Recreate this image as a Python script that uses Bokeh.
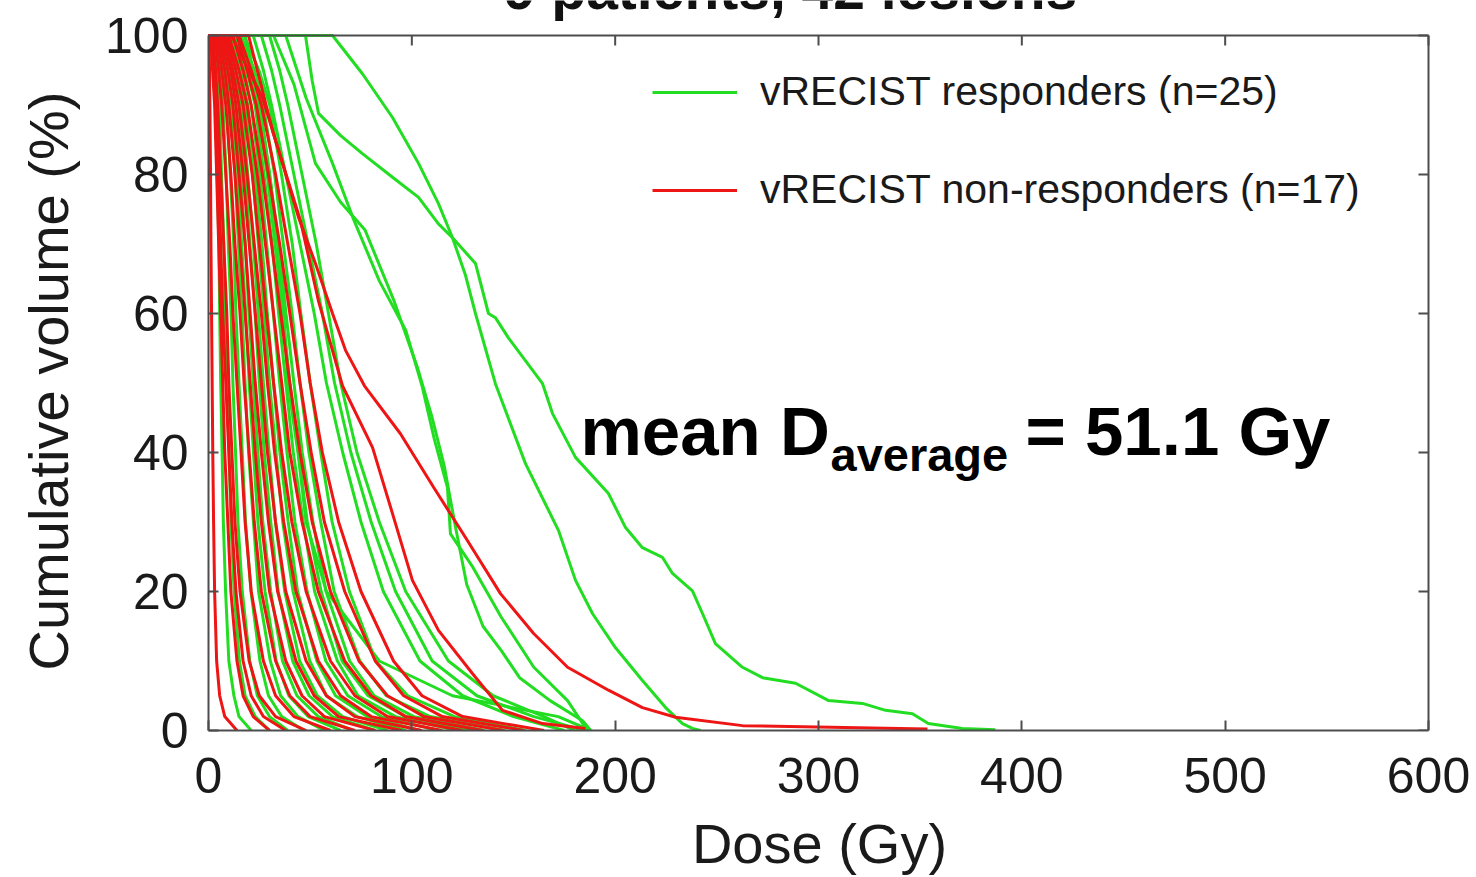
from bokeh.plotting import figure
from bokeh.models import Range1d, FixedTicker, Legend, LegendItem, Label
from bokeh.embed import file_html
from bokeh.resources import INLINE

# ---------------- data ----------------
TITLE = "9 patients, 42 lesions"
X_TICKS = [0, 100, 200, 300, 400, 500, 600]
Y_TICKS = [0, 20, 40, 60, 80, 100]
X_MAX = 600
Y_MAX = 100

# common volume grid (%) for curves described on it
VOL = [100, 95, 90, 80, 70, 60, 50, 40, 30, 20, 10, 5, 2, 0]

# --- responders (green), traced curves
g01_dose = [0, 47.7, 51, 54.1, 65, 75.7, 90.5, 103.3, 113.1, 120, 131.3, 137.7, 141.1, 147.5, 164.3, 169.2,
            180.5, 196.7, 205.1, 213.4, 223.3, 228.2, 238, 243, 249.3, 262.6, 272.5, 288.7, 305, 321.6, 333,
            346.2, 354, 370.8, 387]
g01_vol = [100, 100, 93.5, 88.8, 85.6, 83, 79.6, 76.7, 72.9, 70.9, 67.2, 60, 59.4, 56.5, 49.9, 45.6,
           39.3, 34.1, 29.2, 26.3, 24.9, 22.6, 20.1, 16.8, 12.5, 9.1, 7.6, 6.8, 4.3, 3.9, 2.9,
           2.4, 1.0, 0.3, 0.1]
g02_dose = [0, 61, 75.7, 90.5, 103.3, 113.1, 120, 126.4, 131.3, 141.1, 155.9, 172.1, 180.5, 188.9, 200.2,
            213.4, 224.8, 233.1, 238, 242]
g02_vol = [100, 100, 94.5, 88.2, 81.6, 75.8, 70.9, 65.5, 60, 49.9, 38.4, 28.8, 21.6, 16.8, 11.9,
           7.2, 3.3, 1.0, 0.3, 0]
g03_dose = [0, 32, 42, 52.6, 65, 77, 91, 103, 110, 116, 121, 127, 135, 144, 153, 168, 184, 188]
g03_vol = [100, 100, 93, 81.6, 76, 72, 62, 52, 45, 38, 30, 21, 15, 11.5, 7.6, 4.3, 1.4, 0]
g04_dose = [0, 38, 48, 61, 71, 84, 97, 105, 111, 117.5, 119, 130, 144, 160, 176.6, 184, 186]
g04_vol = [100, 100, 91, 81.6, 73.8, 64.7, 57.6, 49.6, 42, 35, 28.3, 23.5, 16.3, 9.1, 4.3, 1, 0]

# --- responders (green) on the VOL grid (dose in Gy at each VOL level)
g05 = [22, 27, 31, 38, 45, 52, 58, 66, 75, 86, 104, 125, 150, 175]
g06 = [26, 31, 35, 42, 49, 56, 62, 70, 80, 92, 110, 132, 160, 185]
g07 = [30, 35, 39, 46, 53, 59, 65, 73, 84, 97, 118, 140, 165, 180]
g08 = [18, 22, 25, 30, 34, 37, 39, 44, 48, 58, 84, 120, 172, 188]
g09 = [2, 3, 3.7, 4.3, 5.1, 5.5, 6, 6.7, 7.3, 8.4, 10, 12.5, 15, 21]
g10 = [3, 4.4, 5.5, 6.4, 7.5, 8.1, 9, 10.1, 11, 12.6, 15.2, 18, 23, 30]
g11 = [4, 6.1, 7.1, 8.7, 9.7, 11.1, 12, 13.3, 14.5, 16.6, 20.3, 24, 30, 39]
g12 = [5, 7.4, 9.1, 10.7, 12.4, 13.5, 15, 16.6, 18.2, 20.9, 25.3, 29.5, 36, 47]
g13 = [6, 9.1, 10.9, 13.1, 14.7, 16.5, 18, 19.7, 22.1, 24.6, 30.4, 35.5, 44, 57]
g14 = [7, 10.2, 11.9, 14.5, 16.3, 18.3, 20, 22.1, 24.3, 27.8, 33.3, 39.5, 49, 65]
g15 = [8, 10.8, 13.3, 15.7, 18.1, 19.9, 22, 24.3, 26.7, 30.6, 36.4, 43.5, 54, 71]
g16 = [9, 12.6, 14.9, 18.1, 20.4, 22.9, 25, 27.4, 30.6, 34.3, 41.4, 49.5, 61, 82]
g17 = [9.5, 13.4, 16.3, 19.3, 22.1, 24.5, 27, 29.8, 32.9, 37.5, 44.8, 53.5, 66, 88]
g18 = [10.5, 15.1, 17.9, 21.7, 24.5, 27.4, 30, 33.2, 36.5, 41.6, 49.8, 58, 73, 97]
g19 = [11, 15.8, 19.3, 22.9, 26.3, 28.9, 32, 35.1, 39.2, 43.8, 53.3, 62.5, 78, 104]
g20 = [12, 17.6, 20.9, 25.3, 28.6, 31.9, 35, 38.6, 42.5, 48.5, 57.7, 68.5, 85, 113]
g21 = [13, 18.9, 22.9, 27.3, 31.3, 34.5, 38, 41.7, 46.6, 52.2, 63.4, 73.5, 92, 122]
g22 = [14, 20.2, 23.9, 28.9, 32.7, 36.5, 40, 44.2, 48.6, 55.4, 65.7, 78.5, 97, 129]
g23 = [15, 20.9, 25.3, 30.1, 34.5, 38.1, 42, 46.1, 51.4, 57.8, 69.4, 81.5, 101, 136]
g24 = [16, 22.6, 26.9, 32.5, 36.8, 41.1, 45, 49.4, 55.2, 61.8, 74.4, 87.5, 109, 146]
g25 = [17.5, 24.8, 30.1, 35.9, 41.2, 45.4, 50, 55.2, 60.8, 69.3, 82.2, 98, 121, 156]

# --- non-responders (red), traced curves
r01_dose = [0, 11.8, 26.6, 36.4, 44.3, 52.6, 61, 67.4, 76.7, 94.4, 110.7, 127.4, 143.6, 159.8, 176.6,
            196.7, 213.4, 229.7, 262.6, 353.6]
r01_vol = [100, 99.7, 91, 81.6, 73.8, 67.2, 60, 54.7, 49.6, 42.7, 35, 27.3, 19.7, 14, 9.1,
           5.8, 3.3, 1.9, 0.7, 0.2]
r02_dose = [0, 19.7, 31.5, 45.2, 54, 65.9, 80.7, 90.5, 100.3, 113.1, 129.8, 144.6, 164.3, 185.4]
r02_vol = [100, 100, 86.3, 73.4, 61.9, 49.6, 40.7, 31.2, 21.6, 14.4, 8.2, 2.9, 1, 0.3]

# --- non-responders (red) on the VOL grid
r03 = [0.3, 0.5, 0.7, 1, 1.2, 1.5, 1.8, 2.1, 2.5, 3, 4, 5.5, 8, 14]
r04 = [1, 2, 3, 4, 5, 6, 7, 8, 9.5, 11, 14, 17, 22, 30]
r05 = [2, 3.5, 4.5, 6, 7.5, 9, 10, 11.5, 13, 15.5, 20, 25, 33, 48]
r06 = [3, 5, 6.5, 8.5, 10.5, 12, 14, 16, 18, 21, 27, 33, 42, 60]
r07 = [4, 6.5, 8.5, 11, 13, 15.5, 17.5, 20, 22.5, 26, 33, 40, 50, 72]
r08 = [5, 8, 10, 13, 15.5, 18, 20.5, 23, 26, 30, 38, 46, 57, 82]
r09 = [6, 9.5, 12, 15, 18, 20.5, 23, 26, 29.5, 34, 43, 52, 64, 95]
r10 = [7, 11, 13.5, 17, 20, 23, 26, 29, 33, 38, 48, 58, 72, 105]
r11 = [8, 12, 15, 19, 22.5, 26, 29, 32.5, 37, 43, 54, 65, 80, 115]
r12 = [9, 13.5, 17, 21.5, 25, 28.5, 32, 36, 41, 48, 60, 72, 88, 125]
r13 = [10, 15, 19, 24, 28, 32, 36, 40, 46, 54, 67, 80, 97, 135]
r14 = [12, 17, 21, 26.5, 31, 35.5, 40, 45, 51, 60, 74, 88, 106, 145]
r15 = [14, 19, 23.5, 29.5, 35, 40, 45, 50.5, 57, 67, 82, 96, 115, 155]
r16 = [15, 21, 26, 33, 39, 45, 50, 56, 64, 75, 91, 105, 125, 165]
r17 = [1.5, 2.5, 3.5, 5, 6, 7, 8.5, 10, 11.5, 13.5, 17, 21, 27, 38]

X_LABEL = "Dose (Gy)"
Y_LABEL = "Cumulative volume (%)"
LEG_G = "vRECIST responders (n=25)"
LEG_R = "vRECIST non-responders (n=17)"
ANNOT_MAIN = "mean D"
ANNOT_SUB = "average"
ANNOT_TAIL = "= 51.1 Gy"

# ---------------- layout / styling ----------------
W, H = 1476, 877
LEFT, RIGHT, BOTTOM = 208, 46, 147
FRAME_TOP_PX = 35                      # where 100 % sits on the canvas
frame_h = H - BOTTOM                   # frame reaches the canvas top
frame_w = W - LEFT - RIGHT
px_per_y = (frame_h - FRAME_TOP_PX) / Y_MAX
px_per_x = (frame_w - 2) / X_MAX
y_end = frame_h / px_per_y
x_end = frame_w / px_per_x

GREEN = "#22dd22"
RED = "#ee1515"
FONT = "Liberation Sans"
AX = "#4d4d4d"
TICK = 10
NBSP = "\u00a0"

def y_at_px(py):
    """data y whose screen position is canvas row py"""
    return (frame_h - py) / px_per_y

def x_at_px(px):
    return (px - LEFT) / px_per_x

green_curves = [(g01_dose, g01_vol), (g02_dose, g02_vol), (g03_dose, g03_vol), (g04_dose, g04_vol)]
for g in [g05, g06, g07, g08, g09, g10, g11, g12, g13, g14, g15, g16, g17, g18, g19, g20, g21, g22,
          g23, g24, g25]:
    green_curves.append(([0] + g, [100] + VOL))
red_curves = [(r01_dose, r01_vol), (r02_dose, r02_vol)]
for r in [r03, r04, r05, r06, r07, r08, r09, r10, r11, r12, r13, r14, r15, r16, r17]:
    red_curves.append(([0] + r, [100] + VOL))

p = figure(width=W, height=H, output_backend="svg", toolbar_location=None,
           x_range=Range1d(0, x_end), y_range=Range1d(0, y_end),
           min_border_left=LEFT, min_border_right=RIGHT, min_border_top=0, min_border_bottom=BOTTOM)
p.title.visible = False
p.background_fill_color = "white"
p.border_fill_color = "white"
p.grid.visible = False
p.outline_line_color = None

g_rs = [p.line(x, y, line_color=GREEN, line_width=3) for x, y in green_curves]
r_rs = [p.line(x, y, line_color=RED, line_width=3) for x, y in red_curves]

# top and right edges of the box, with inward ticks
p.line([0, X_MAX], [Y_MAX, Y_MAX], line_color=AX, line_width=2)
p.line([X_MAX, X_MAX], [0, Y_MAX], line_color=AX, line_width=2)
p.segment(x0=X_TICKS, y0=[Y_MAX] * len(X_TICKS), x1=X_TICKS,
          y1=[Y_MAX - TICK / px_per_y] * len(X_TICKS), line_color=AX, line_width=2)
p.segment(x0=[X_MAX] * len(Y_TICKS), y0=Y_TICKS, x1=[X_MAX - TICK / px_per_x] * len(Y_TICKS),
          y1=Y_TICKS, line_color=AX, line_width=2)

xa = p.xaxis[0]
ya = p.yaxis[0]
xa.ticker = FixedTicker(ticks=X_TICKS)
ya.ticker = FixedTicker(ticks=Y_TICKS)
xa.bounds = (0, X_MAX)
ya.bounds = (0, Y_MAX)
for ax in (xa, ya):
    ax.major_tick_in = TICK
    ax.major_tick_out = 0
    ax.minor_tick_line_color = None
    ax.axis_line_color = AX
    ax.axis_line_width = 2
    ax.major_tick_line_color = AX
    ax.major_tick_line_width = 2
    ax.major_label_text_font = FONT
    ax.major_label_text_font_size = "50px"
    ax.major_label_text_color = "#1a1a1a"
    ax.axis_label_text_font = FONT
    ax.axis_label_text_font_size = "56px"
    ax.axis_label_text_font_style = "normal"
    ax.axis_label_text_color = "#1a1a1a"
xa.axis_label = X_LABEL
# the frame runs to the canvas top, so pad the label's far end to centre it on 0-100 %
ya.axis_label = Y_LABEL + NBSP * 2
xa.major_label_standoff = 27
xa.axis_label_standoff = 16
ya.major_label_standoff = 20
ya.axis_label_standoff = 22

legend = Legend(items=[LegendItem(label=LEG_G, renderers=[g_rs[0]]),
                       LegendItem(label=LEG_R, renderers=[r_rs[0]])],
                location=(444, 517), orientation="vertical",
                label_text_font=FONT, label_text_font_size="41px", label_text_color="#1a1a1a",
                glyph_width=85, glyph_height=46, label_height=46, label_standoff=23, spacing=51,
                padding=0, margin=0, border_line_alpha=0, background_fill_alpha=0)
p.add_layout(legend)

# Label anchors: Bokeh places these about 0.35 em above the drawn baseline
p.add_layout(Label(x=x_at_px(790), y=y_at_px(8 - 0.35 * 57), text=TITLE, text_font=FONT,
                   text_font_size="57px", text_font_style="bold", text_align="center",
                   text_baseline="alphabetic", text_color="#111111"))
p.add_layout(Label(x=x_at_px(580), y=y_at_px(455 - 0.35 * 69), text=ANNOT_MAIN, text_font=FONT,
                   text_font_size="69px", text_font_style="bold", text_align="left",
                   text_baseline="alphabetic", text_color="black"))
p.add_layout(Label(x=x_at_px(830), y=y_at_px(470 - 0.35 * 47), text=ANNOT_SUB, text_font=FONT,
                   text_font_size="47px", text_font_style="bold", text_align="left",
                   text_baseline="alphabetic", text_color="black"))
p.add_layout(Label(x=x_at_px(1025), y=y_at_px(455 - 0.35 * 69), text=ANNOT_TAIL, text_font=FONT,
                   text_font_size="69px", text_font_style="bold", text_align="left",
                   text_baseline="alphabetic", text_color="black"))

open("out.html", "w").write(file_html(p, INLINE))
